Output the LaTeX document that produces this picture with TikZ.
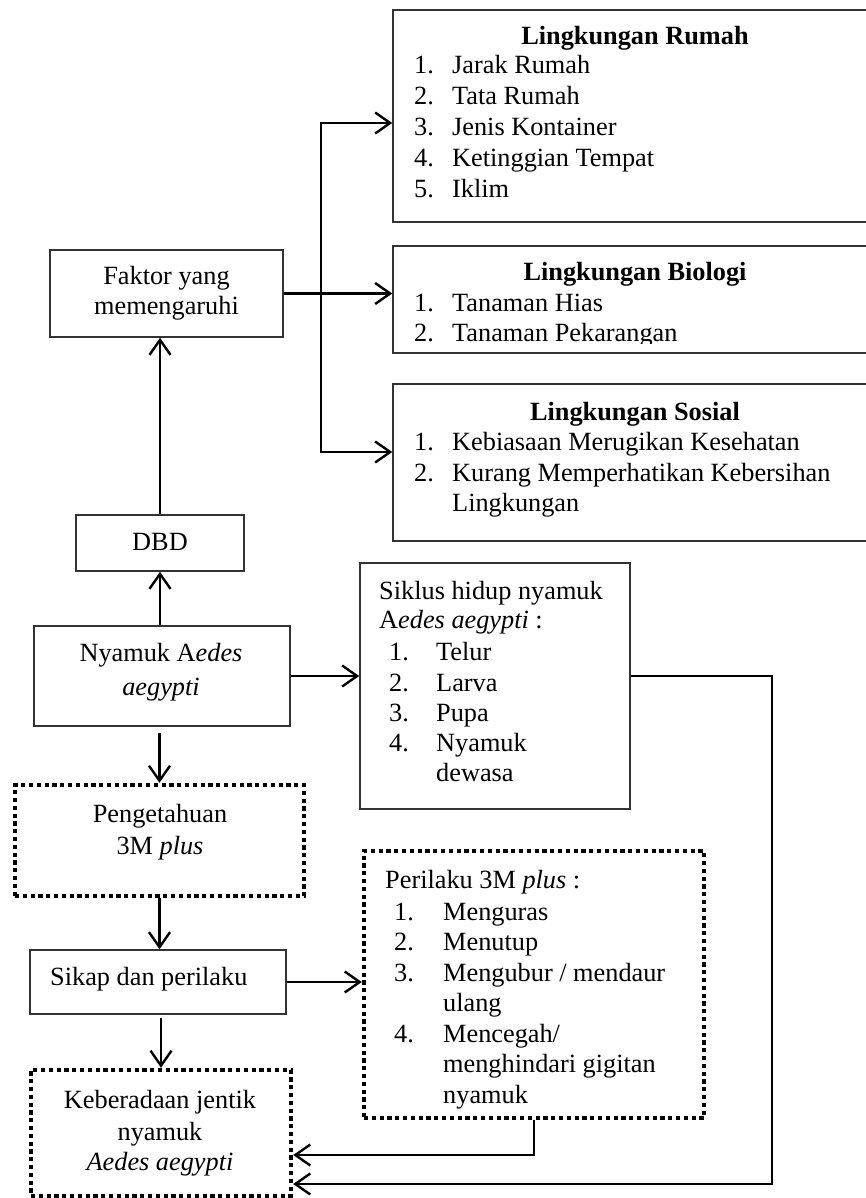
\documentclass[tikz,border=0pt]{standalone}
\usepackage{fontspec}
\setmainfont{Liberation Serif}
\usetikzlibrary{arrows.meta}
\newcommand\myitem[3]{\makebox[#1][l]{#2}#3}
\begin{document}
\begin{tikzpicture}[x=1pt,y=-1pt,
 box/.style={draw=black!80, line width=1.5pt, rectangle, inner sep=0pt},
 dotbox/.style={draw=black, line width=4.4pt, dash pattern=on 4.2pt off 3.6pt, rectangle, inner sep=0pt},
 txt/.style={inner sep=0pt, font=\fontsize{26.3}{30}\selectfont},
 tip/.tip={Straight Barb[length=15pt,width=21pt,line width=2.4pt]},
 conn/.style={line width=2.2pt, -tip},
 conn2/.style={line width=2.2pt, tip-tip, line join=miter}]
\useasboundingbox (0,0) rectangle (865,1198);

% boxes
\node[box, minimum width=477pt, minimum height=212pt] (rumah) at (631.5,116) {};
\node[box, minimum width=477pt, minimum height=107pt] (biologi) at (631.5,299.5) {};
\node[box, minimum width=477pt, minimum height=157pt] (sosial) at (631.5,462.5) {};
\node[box, minimum width=233pt, minimum height=87pt] (faktor) at (166.5,293.5) {};
\node[box, minimum width=168pt, minimum height=56pt] (dbd) at (160,543) {};
\node[box, minimum width=256pt, minimum height=100pt] (nyamuk) at (162,676) {};
\node[box, minimum width=270pt, minimum height=246pt] (siklus) at (495,686) {};
\node[dotbox, minimum width=289pt, minimum height=111pt] (peng) at (159.5,840.5) {};
\node[box, minimum width=256pt, minimum height=64pt] (sikap) at (158,982) {};
\node[dotbox, minimum width=340pt, minimum height=267pt] (perilaku) at (534,984.5) {};
\node[dotbox, minimum width=260pt, minimum height=126pt] (keb) at (161,1133) {};

% texts: Lingkungan Rumah
\node[txt, anchor=base] (rumahT) at (635,45) {\bfseries Lingkungan Rumah};
\node[txt, anchor=base west] (rumah1) at (414,74) {\myitem{38pt}{1.}{Jarak Rumah}};
\node[txt, anchor=base west] (rumah2) at (414,105) {\myitem{38pt}{2.}{Tata Rumah}};
\node[txt, anchor=base west] (rumah3) at (414,136) {\myitem{38pt}{3.}{Jenis Kontainer}};
\node[txt, anchor=base west] (rumah4) at (414,167) {\myitem{38pt}{4.}{Ketinggian Tempat}};
\node[txt, anchor=base west] (rumah5) at (414,198) {\myitem{38pt}{5.}{Iklim}};

% Lingkungan Biologi
\node[txt, anchor=base] (bioT) at (635,280) {\bfseries Lingkungan Biologi};
\node[txt, anchor=base west] (bio1) at (414,311) {\myitem{38pt}{1.}{Tanaman Hias}};
\begin{scope}
\clip (393,300) rectangle (870,343);
\node[txt, anchor=base west] (bio2) at (414,341) {\myitem{38pt}{2.}{Tanaman Pekarangan}};
\end{scope}

% Lingkungan Sosial
\node[txt, anchor=base] (sosT) at (635,420) {\bfseries Lingkungan Sosial};
\node[txt, anchor=base west] (sos1) at (414,450) {\myitem{38pt}{1.}{Kebiasaan Merugikan Kesehatan}};
\node[txt, anchor=base west] (sos2) at (414,481) {\myitem{38pt}{2.}{Kurang Memperhatikan Kebersihan}};
\node[txt, anchor=base west] (sos3) at (452,511) {Lingkungan};

% left column
\node[txt, anchor=base] (faktor1) at (166.5,284) {Faktor yang};
\node[txt, anchor=base] (faktor2) at (166.5,314) {memengaruhi};
\node[txt, anchor=base] (dbdT) at (160,550) {DBD};
\node[txt, anchor=base] (nyam1) at (161,661) {Nyamuk A\textit{edes}};
\node[txt, anchor=base] (nyam2) at (161,695) {\textit{aegypti}};
\node[txt, anchor=base] (peng1) at (160,822) {Pengetahuan};
\node[txt, anchor=base] (peng2) at (160,854) {3M \textit{plus}};
\node[txt, anchor=base west] (sikapT) at (50,985) {Sikap dan perilaku};
\node[txt, anchor=base] (keb1) at (160,1108) {Keberadaan jentik};
\node[txt, anchor=base] (keb2) at (160,1140) {nyamuk};
\node[txt, anchor=base] (keb3) at (160,1170) {\textit{Aedes aegypti}};

% Siklus
\node[txt, anchor=base west] (sik0) at (379,599) {Siklus hidup nyamuk};
\node[txt, anchor=base west] (sik0b) at (379,628) {A\textit{edes aegypti} :};
\node[txt, anchor=base west] (sik1) at (389,660) {\myitem{47pt}{1.}{Telur}};
\node[txt, anchor=base west] (sik2) at (389,691) {\myitem{47pt}{2.}{Larva}};
\node[txt, anchor=base west] (sik3) at (389,721) {\myitem{47pt}{3.}{Pupa}};
\node[txt, anchor=base west] (sik4) at (389,751) {\myitem{47pt}{4.}{Nyamuk}};
\node[txt, anchor=base west] (sik5) at (436,781) {dewasa};

% Perilaku
\node[txt, anchor=base west] (per0) at (385,888) {Perilaku 3M \textit{plus} :};
\node[txt, anchor=base west] (per1) at (394,920) {\myitem{49pt}{1.}{Menguras}};
\node[txt, anchor=base west] (per2) at (394,950) {\myitem{49pt}{2.}{Menutup}};
\node[txt, anchor=base west] (per3) at (394,981) {\myitem{49pt}{3.}{Mengubur / mendaur}};
\node[txt, anchor=base west] (per3b) at (443,1011) {ulang};
\node[txt, anchor=base west] (per4) at (394,1042) {\myitem{49pt}{4.}{Mencegah/}};
\node[txt, anchor=base west] (per4b) at (443,1072) {menghindari gigitan};
\node[txt, anchor=base west] (per4c) at (443,1103) {nyamuk};

% connectors
\coordinate (busTop) at (321,123);
\coordinate (busBot) at (321,452);
\coordinate (pk) at (534,1155);
\coordinate (sk) at (772,1184);
\draw[conn] (dbd.north) -- (dbd.north |- faktor.south);
\draw[conn] (faktor.east) -- (faktor.east -| biologi.west);
\draw[conn2] (busTop -| rumah.west) -- (busTop) -- (busBot) -- (busBot -| sosial.west);
\draw[conn] (nyamuk.north -| dbd.south) -- (dbd.south);
\draw[conn] (nyamuk.east) -- (nyamuk.east -| siklus.west);
\draw[conn, shorten <=6pt] (nyamuk.south -| peng.north) -- (peng.north);
\draw[conn] (peng.south) -- (peng.south |- sikap.north);
\draw[conn] (sikap.east) -- (sikap.east -| perilaku.west);
\draw[conn, shorten <=3pt] (sikap.south -| keb.north) -- (keb.north);
\draw[conn, line join=miter] (perilaku.south) -- (perilaku.south |- pk) -- (pk -| keb.east);
\draw[conn, line join=miter] (siklus.east |- nyamuk.east) -- (sk |- nyamuk.east) -- (sk) -- (sk -| keb.east);
\end{tikzpicture}
\end{document}
